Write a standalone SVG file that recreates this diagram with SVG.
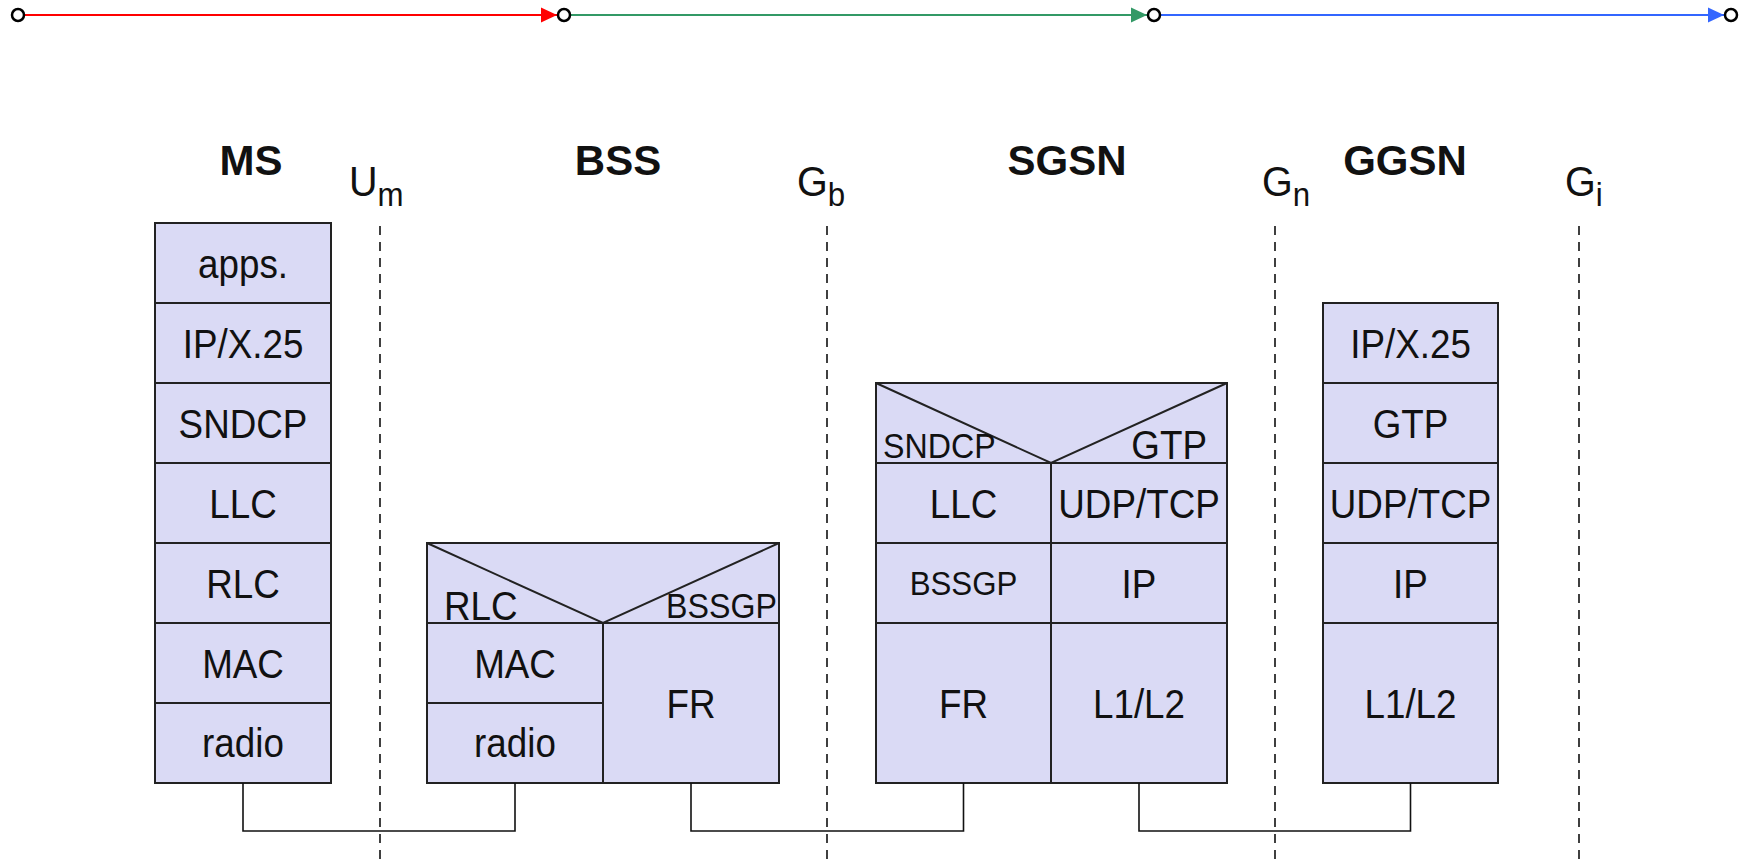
<svg xmlns="http://www.w3.org/2000/svg" width="1749" height="866" viewBox="0 0 1749 866">
<style>
.box{fill:#dadaf5;stroke:#222;stroke-width:2}
.ln{stroke:#222;stroke-width:2;fill:none}
.t{font-family:"Liberation Sans",Arial,sans-serif;font-size:40px;fill:#111;text-anchor:middle}
.s{font-size:35px}
.s2{font-size:34px}
.st{text-anchor:start}
.en{text-anchor:end}
.h{font-family:"Liberation Sans",Arial,sans-serif;font-size:42px;font-weight:bold;fill:#111;text-anchor:middle}
.if{font-family:"Liberation Sans",Arial,sans-serif;font-size:43px;fill:#111}
.sub{font-size:34px}
.dash{stroke:#111;stroke-width:1.6;stroke-dasharray:9,7;fill:none}
.conn{stroke:#111;stroke-width:1.6;fill:none}
.pt{fill:#fff;stroke:#000;stroke-width:2.5}
</style>
<defs>
<marker id="ar" viewBox="0 0 16 16" refX="16" refY="8" markerWidth="16" markerHeight="16" markerUnits="userSpaceOnUse" orient="auto"><path d="M0,0.5 L16,8 L0,15.5 Z" fill="#ff0000"/></marker>
<marker id="ag" viewBox="0 0 16 16" refX="16" refY="8" markerWidth="16" markerHeight="16" markerUnits="userSpaceOnUse" orient="auto"><path d="M0,0.5 L16,8 L0,15.5 Z" fill="#339966"/></marker>
<marker id="ab" viewBox="0 0 16 16" refX="16" refY="8" markerWidth="16" markerHeight="16" markerUnits="userSpaceOnUse" orient="auto"><path d="M0,0.5 L16,8 L0,15.5 Z" fill="#3366ff"/></marker>
</defs>
<g id="timeline">
<line x1="25" y1="15" x2="557" y2="15" stroke="#ff0000" stroke-width="2" marker-end="url(#ar)"/>
<line x1="571" y1="15" x2="1147" y2="15" stroke="#339966" stroke-width="2" marker-end="url(#ag)"/>
<line x1="1161" y1="15" x2="1724" y2="15" stroke="#3366ff" stroke-width="2" marker-end="url(#ab)"/>
<circle class="pt" cx="18" cy="15" r="6"/>
<circle class="pt" cx="564" cy="15" r="6"/>
<circle class="pt" cx="1154" cy="15" r="6"/>
<circle class="pt" cx="1731" cy="15" r="6"/>
</g>
<g id="interfaces">
<line class="dash" x1="380" y1="226" x2="380" y2="866"/>
<line class="dash" x1="827" y1="226" x2="827" y2="866"/>
<line class="dash" x1="1275" y1="226" x2="1275" y2="866"/>
<line class="dash" x1="1579" y1="226" x2="1579" y2="866"/>
<text class="if" transform="translate(349,196) scale(0.92,1)">U<tspan class="sub" dy="10">m</tspan></text>
<text class="if" transform="translate(797,196) scale(0.92,1)">G<tspan class="sub" dy="10">b</tspan></text>
<text class="if" transform="translate(1262,196) scale(0.92,1)">G<tspan class="sub" dy="10">n</tspan></text>
<text class="if" transform="translate(1565,196) scale(0.92,1)">G<tspan class="sub" dy="10">i</tspan></text>
</g>
<g id="MS">
<text class="h" x="251" y="175">MS</text>
<rect class="box" x="155" y="223" width="176" height="80"/>
<rect class="box" x="155" y="303" width="176" height="80"/>
<rect class="box" x="155" y="383" width="176" height="80"/>
<rect class="box" x="155" y="463" width="176" height="80"/>
<rect class="box" x="155" y="543" width="176" height="80"/>
<rect class="box" x="155" y="623" width="176" height="80"/>
<rect class="box" x="155" y="703" width="176" height="80"/>
<text class="t" transform="translate(243,278) scale(0.92,1)">apps.</text>
<text class="t" transform="translate(243,358) scale(0.92,1)">IP/X.25</text>
<text class="t" transform="translate(243,438) scale(0.92,1)">SNDCP</text>
<text class="t" transform="translate(243,518) scale(0.92,1)">LLC</text>
<text class="t" transform="translate(243,598) scale(0.92,1)">RLC</text>
<text class="t" transform="translate(243,678) scale(0.92,1)">MAC</text>
<text class="t" transform="translate(243,757) scale(0.92,1)">radio</text>
</g>
<g id="BSS">
<text class="h" x="618" y="175">BSS</text>
<rect class="box" x="427" y="543" width="352" height="80"/>
<path class="ln" d="M427,543 L603,623 L779,543"/>
<rect class="box" x="427" y="623" width="176" height="80"/>
<rect class="box" x="427" y="703" width="176" height="80"/>
<rect class="box" x="603" y="623" width="176" height="160"/>
<text class="t st" transform="translate(444,620) scale(0.92,1)">RLC</text>
<text class="t s en" transform="translate(777,618) scale(0.92,1)">BSSGP</text>
<text class="t" transform="translate(515,678) scale(0.92,1)">MAC</text>
<text class="t" transform="translate(515,757) scale(0.92,1)">radio</text>
<text class="t" transform="translate(691,718) scale(0.92,1)">FR</text>
</g>
<g id="SGSN">
<text class="h" x="1067" y="175">SGSN</text>
<rect class="box" x="876" y="383" width="351" height="80"/>
<path class="ln" d="M876,383 L1051,463 L1227,383"/>
<rect class="box" x="876" y="463" width="175" height="80"/>
<rect class="box" x="876" y="543" width="175" height="80"/>
<rect class="box" x="876" y="623" width="175" height="160"/>
<rect class="box" x="1051" y="463" width="176" height="80"/>
<rect class="box" x="1051" y="543" width="176" height="80"/>
<rect class="box" x="1051" y="623" width="176" height="160"/>
<text class="t s st" transform="translate(883,458) scale(0.92,1)">SNDCP</text>
<text class="t en" transform="translate(1207,459) scale(0.92,1)">GTP</text>
<text class="t" transform="translate(963.5,518) scale(0.92,1)">LLC</text>
<text class="t s2" transform="translate(963.5,595) scale(0.92,1)">BSSGP</text>
<text class="t" transform="translate(963.5,718) scale(0.92,1)">FR</text>
<text class="t" transform="translate(1139,518) scale(0.92,1)">UDP/TCP</text>
<text class="t" transform="translate(1139,598) scale(0.92,1)">IP</text>
<text class="t" transform="translate(1139,718) scale(0.92,1)">L1/L2</text>
</g>
<g id="GGSN">
<text class="h" x="1405" y="175">GGSN</text>
<rect class="box" x="1323" y="303" width="175" height="80"/>
<rect class="box" x="1323" y="383" width="175" height="80"/>
<rect class="box" x="1323" y="463" width="175" height="80"/>
<rect class="box" x="1323" y="543" width="175" height="80"/>
<rect class="box" x="1323" y="623" width="175" height="160"/>
<text class="t" transform="translate(1410.5,358) scale(0.92,1)">IP/X.25</text>
<text class="t" transform="translate(1410.5,438) scale(0.92,1)">GTP</text>
<text class="t" transform="translate(1410.5,518) scale(0.92,1)">UDP/TCP</text>
<text class="t" transform="translate(1410.5,598) scale(0.92,1)">IP</text>
<text class="t" transform="translate(1410.5,718) scale(0.92,1)">L1/L2</text>
</g>
<g id="connectors">
<path class="conn" d="M243,783 V831 H515 V783"/>
<path class="conn" d="M691,783 V831 H963.5 V783"/>
<path class="conn" d="M1139,783 V831 H1410.5 V783"/>
</g>
</svg>
